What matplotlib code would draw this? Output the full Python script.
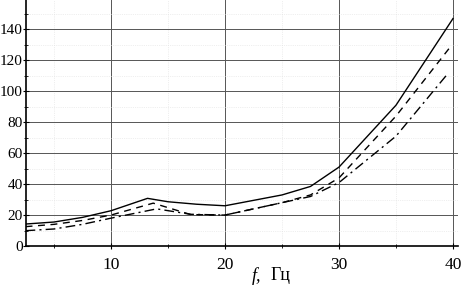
import matplotlib
matplotlib.use("Agg")
import matplotlib.pyplot as plt
from matplotlib.ticker import MultipleLocator

plt.rcParams['font.family'] = ['Liberation Serif', 'DejaVu Serif']

x_solid = [2.5, 5, 7.5, 10, 13.2, 15, 17.5, 20, 25, 27.5, 30, 35, 40]
y_solid = [14.2, 15.5, 18.5, 22.8, 30.8, 28.6, 27, 26, 33, 38.5, 51, 91, 147]

x_dash = [2.5, 5, 7.5, 10, 13.7, 17, 20, 25, 27.5, 30, 35, 39.8]
y_dash = [12.5, 14, 16.5, 20, 27.7, 20.3, 20, 28, 33, 44, 84, 129]

x_dashdot = [2.5, 5, 7.5, 10, 14, 17, 20, 25, 27.5, 30, 35, 39.5]
y_dashdot = [9.9, 11, 14, 18, 24, 20.5, 20, 28, 32, 41, 71, 111]

x_ticks = [10, 20, 30, 40]
y_ticks = [0, 20, 40, 60, 80, 100, 120, 140]

fig = plt.figure(figsize=(4.62, 2.88), dpi=100)
ax = fig.add_axes([26/462, 42/288, 432/462, 246/288])

ax.plot(x_solid, y_solid, color='black', lw=1.0, ls='-')
ax.plot(x_dash, y_dash, color='black', lw=1.0, ls=(0, (5, 4)))
ax.plot(x_dashdot, y_dashdot, color='black', lw=1.0, ls=(0, (7, 3, 1.5, 3)))

ax.set_xlim(2.54, 40.44)
ax.set_ylim(0, 159)
ax.set_xticks(x_ticks)
ax.set_yticks(y_ticks)
ax.xaxis.set_minor_locator(MultipleLocator(5))
ax.yaxis.set_minor_locator(MultipleLocator(10))

ax.grid(which='major', color='#555555', lw=0.7)
ax.grid(which='minor', color='#e0e0e0', lw=0.5, ls=':')

for s in ['top', 'right']:
    ax.spines[s].set_visible(False)
for s in ['left', 'bottom']:
    ax.spines[s].set_linewidth(1.2)

ax.tick_params(axis='x', which='major', direction='inout', length=4, labelsize=12.5, pad=6)
ax.tick_params(axis='y', which='major', direction='inout', length=4, labelsize=11, pad=0.5)
ax.tick_params(axis='both', which='minor', direction='inout', length=3)

fig.text(252/462, 1 - 276/288, 'f,', fontsize=13, style='italic', ha='left', va='center')
fig.text(271/462, 1 - 276/288, 'Гц', fontsize=13, ha='left', va='center')

fig.savefig('out.png', dpi=100)
